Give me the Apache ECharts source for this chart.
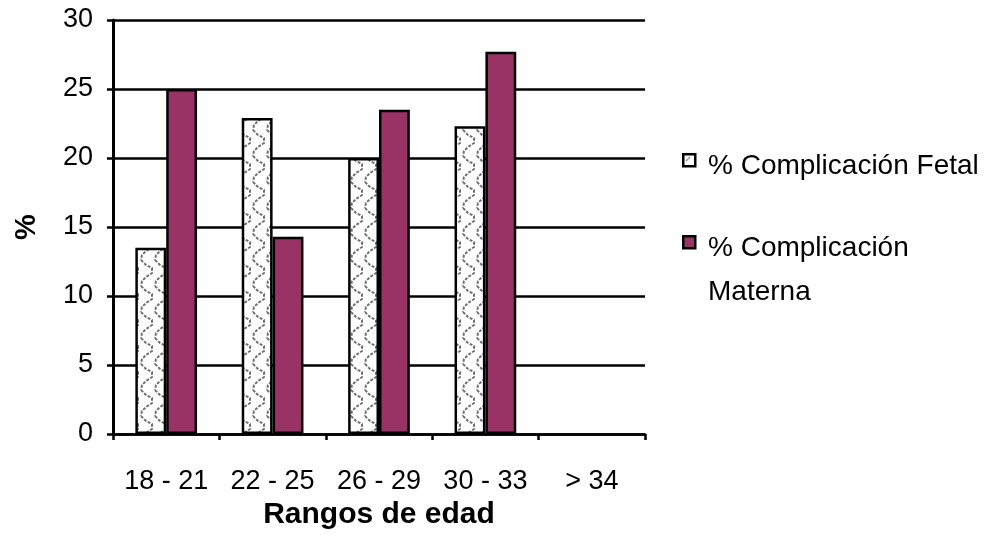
<!DOCTYPE html>
<html>
<head>
<meta charset="utf-8">
<script src="https://cdn.jsdelivr.net/npm/echarts@6/dist/echarts.min.js"></script>
<style>
  html, body { margin: 0; padding: 0; background: #fff; }
  #chart { width: 990px; height: 552px; }
</style>
</head>
<body>
<div id="chart"></div>
<script>
// Age ranges and complication percentages
const categories = ['18 - 21', '22 - 25', '26 - 29', '30 - 33', '> 34'];
const fetalValues = [13.5, 22.9, 20.0, 22.3, null];
const maternalValues = [25.0, 14.3, 23.5, 27.7, null];
const seriesNames = ['% Complicación Fetal', '% Complicación Materna'];
const yTicks = { min: 0, max: 30, interval: 5 };

const FONT = "'Liberation Sans', Arial, sans-serif";

// Gray dotted scallop texture for the fetal bars
function makePattern() {
  const c = document.createElement('canvas');
  c.width = 14; c.height = 26;
  const g = c.getContext('2d');
  g.fillStyle = '#ffffff';
  g.fillRect(0, 0, 14, 26);
  g.strokeStyle = '#707070';
  g.lineWidth = 2;
  g.setLineDash([3, 1.5]);
  g.beginPath();
  g.moveTo(1, 0);
  g.lineTo(6, 5);
  g.lineTo(12, 8);
  g.lineTo(12, 13);
  g.lineTo(6, 17);
  g.lineTo(2, 21);
  g.lineTo(1, 26);
  g.stroke();
  return c;
}
const pattern = makePattern();

const chart = echarts.init(document.getElementById('chart'), null, { renderer: 'canvas' });

chart.setOption({
  animation: false,
  backgroundColor: '#ffffff',
  grid: { left: 113, right: 345, top: 20, bottom: 118, containLabel: false },
  xAxis: {
    type: 'category',
    data: categories,
    boundaryGap: true,
    axisLine: { lineStyle: { color: '#000', width: 2.5 } },
    axisTick: { show: true, length: 6, lineStyle: { color: '#000', width: 2.5 } },
    axisLabel: { color: '#000', fontSize: 27, fontFamily: FONT, margin: 34, interval: 0, hideOverlap: false },
    name: 'Rangos de edad',
    nameLocation: 'middle',
    nameGap: 55,
    nameTextStyle: { color: '#000', fontSize: 30, fontWeight: 'bold', fontFamily: FONT }
  },
  yAxis: {
    type: 'value',
    min: yTicks.min,
    max: yTicks.max,
    interval: yTicks.interval,
    axisLine: { show: true, lineStyle: { color: '#000', width: 3 } },
    axisTick: { show: true, length: 6, lineStyle: { color: '#000', width: 2.5 } },
    axisLabel: { color: '#000', fontSize: 27, fontFamily: FONT, margin: 20 },
    splitLine: { show: true, lineStyle: { color: '#000', width: 2.5 } },
    name: '%',
    nameLocation: 'middle',
    nameRotate: 90,
    nameGap: 72,
    nameTextStyle: { color: '#000', fontSize: 29, fontWeight: 'bold', fontFamily: FONT }
  },
  series: [
    {
      name: seriesNames[0],
      type: 'bar',
      data: fetalValues,
      barWidth: '29%',
      barGap: '0%',
      itemStyle: { color: { image: pattern, repeat: 'repeat' }, borderColor: '#000', borderWidth: 2.5 }
    },
    {
      name: seriesNames[1],
      type: 'bar',
      data: maternalValues,
      barWidth: '29%',
      barGap: '0%',
      itemStyle: { color: '#993366', borderColor: '#000', borderWidth: 2.5 }
    }
  ],
  graphic: [
    { type: 'rect', left: 682, top: 153, shape: { width: 12, height: 12 },
      style: { fill: '#fff', stroke: '#000', lineWidth: 2.5 } },
    { type: 'line', shape: { x1: 686, y1: 161, x2: 690, y2: 157 },
      style: { stroke: '#999', lineWidth: 1.5 } },
    { type: 'text', left: 708, top: 152,
      style: { text: seriesNames[0], font: '28px ' + FONT, fill: '#000' } },
    { type: 'rect', left: 682, top: 235, shape: { width: 12, height: 12 },
      style: { fill: '#993366', stroke: '#000', lineWidth: 2.5 } },
    { type: 'text', left: 708, top: 226,
      style: { text: '% Complicación\nMaterna', font: '28px ' + FONT, fill: '#000', lineHeight: 44 } }
  ]
});
</script>
</body>
</html>
